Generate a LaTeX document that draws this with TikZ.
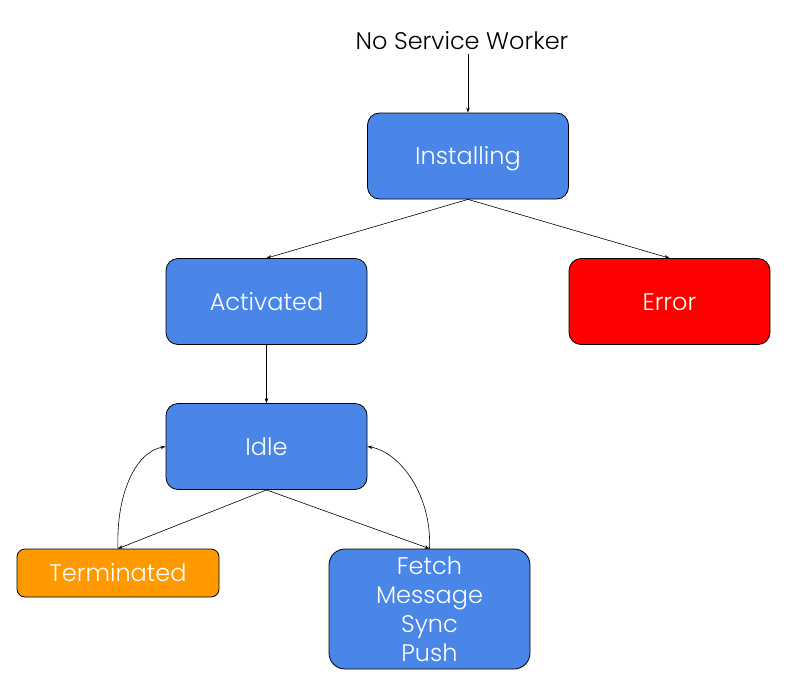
\documentclass[tikz,border=0pt]{standalone}
\usepackage{fontspec}
\setmainfont{Poppins Light}
\usetikzlibrary{arrows.meta}
\definecolor{gblue}{HTML}{4A86E8}
\definecolor{gred}{HTML}{FF0000}
\definecolor{gorange}{HTML}{FF9900}
\begin{document}
\begin{tikzpicture}[x=1pt,y=-1pt,
  state/.style={draw=black,line width=0.8pt,rounded corners=12pt,text=white,
    font=\fontsize{24}{29}\selectfont,align=center,inner sep=0pt,
    minimum width=201pt,minimum height=86pt},
  oneline/.style={text height=20pt,text depth=3pt},
  conn/.style={line width=0.6pt,-{Stealth[length=5pt,width=3.5pt]}}]
\useasboundingbox (0,0) rectangle (788,686);
\node[font=\fontsize{24}{29}\selectfont] (nsw) at (462,41) {No Service Worker};
\node[state,oneline,fill=gblue] (inst) at (468,156) {Installing};
\node[state,oneline,fill=gblue] (act) at (266.5,301.5) {Activated};
\node[state,oneline,fill=gred] (err) at (669.5,301.5) {Error};
\node[state,oneline,fill=gblue] (idle) at (266.5,446.5) {Idle};
\node[state,oneline,fill=gorange,minimum width=202pt,minimum height=48pt,rounded corners=8pt] (term) at (118,573) {Terminated};
\node[state,fill=gblue,minimum height=120pt,rounded corners=16pt] (fetch) at (429.5,609) {Fetch\\Message\\Sync\\Push};
\draw[conn] (nsw.south -| inst.north) -- (inst.north);
\draw[conn] (inst.south) -- (act.north);
\draw[conn] (inst.south) -- (err.north);
\draw[conn] (act.south) -- (idle.north);
\draw[conn] (idle.south) -- (term.north);
\draw[conn] (idle.south) -- (fetch.north);
\draw[conn] (term.north) .. controls (116,495) and (135,452) .. (idle.west);
\draw[conn] (fetch.north) .. controls (432,495) and (400,452) .. (idle.east);
\end{tikzpicture}
\end{document}
